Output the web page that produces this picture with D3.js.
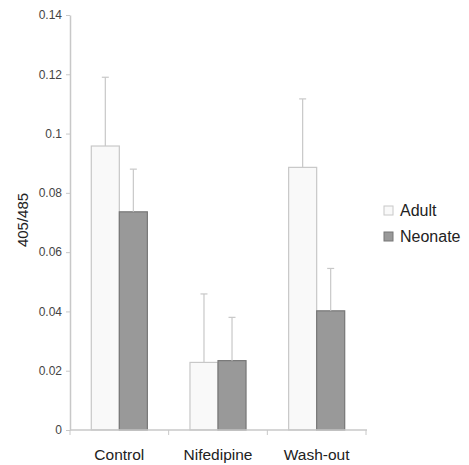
<!DOCTYPE html>
<html>
<head>
<meta charset="utf-8">
<script src="https://cdn.jsdelivr.net/npm/d3@7"></script>
<style>
  body {margin: 0; background: #fff;}
  text {font-family: 'Liberation Sans', Arial, sans-serif;}
</style>
</head>
<body>
<div class="chart"></div>
<script>
var categories = ['Control', 'Nifedipine', 'Wash-out']
var groups = ['Adult', 'Neonate']
var adult = [0.0958, 0.0228, 0.0886]
var adultErr = [0.0232, 0.0231, 0.0231]
var neonate = [0.0736, 0.0234, 0.0402]
var neonateErr = [0.0144, 0.0146, 0.0143]
var yTicks = [0, 0.02, 0.04, 0.06, 0.08, 0.1, 0.12, 0.14]

var fills = {Adult: '#f9f9f9', Neonate: '#999'}
var strokes = {Adult: '#c8c8c8', Neonate: '#777'}

var data = []
categories.forEach((c, i) => {
  data.push({cat: c, group: 'Adult', v: adult[i], e: adultErr[i]})
  data.push({cat: c, group: 'Neonate', v: neonate[i], e: neonateErr[i]})
})

var width = 469, height = 465
var svg = d3.select('.chart').append('svg').attr('width', width).attr('height', height)

var x = d3.scaleBand().domain(categories).range([70, 366]).paddingInner(0).paddingOuter(0)
var x1 = d3.scaleBand().domain(groups).range([0, x.bandwidth()]).paddingInner(0).paddingOuter(0.76)
var y = d3.scaleLinear().domain([0, 0.14]).range([430, 15])

// y axis
var yAxis = svg.append('g').attr('transform', 'translate(70,0)')
  .call(d3.axisLeft(y).tickValues(yTicks).tickSize(4).tickSizeOuter(0).tickPadding(4)
    .tickFormat(d => d3.format('')(+d.toFixed(2))))
yAxis.select('.domain').attr('stroke', '#c8c8c8').attr('stroke-width', 1.5)
yAxis.selectAll('.tick line').attr('stroke', '#c8c8c8')
yAxis.selectAll('.tick text').attr('fill', '#444').style('font-size', '12px')

// bars
svg.selectAll('rect.bar').data(data).join('rect')
  .attr('class', 'bar')
  .attr('x', d => x(d.cat) + x1(d.group))
  .attr('width', x1.bandwidth())
  .attr('y', d => y(d.v))
  .attr('height', d => y(0) - y(d.v))
  .attr('fill', d => fills[d.group])
  .attr('stroke', d => strokes[d.group])
  .attr('stroke-width', 1.2)

// error bars
var eb = svg.selectAll('g.err').data(data).join('g').attr('class', 'err')
  .attr('transform', d => `translate(${x(d.cat) + x1(d.group) + x1.bandwidth() / 2},0)`)
eb.append('line').attr('y1', d => y(d.v)).attr('y2', d => y(d.v + d.e))
  .attr('stroke', '#c8c8c8').attr('stroke-width', 1.2)
eb.append('line').attr('x1', -3.5).attr('x2', 3.5)
  .attr('y1', d => y(d.v + d.e)).attr('y2', d => y(d.v + d.e))
  .attr('stroke', '#c8c8c8').attr('stroke-width', 1.2)

// x axis
var xAxis = svg.append('g').attr('transform', 'translate(0,430)')
xAxis.append('line').attr('x1', 70).attr('x2', 367).attr('stroke', '#c8c8c8').attr('stroke-width', 1.5)
var xt = d3.range(categories.length + 1).map(i => i === categories.length ? x.range()[1] : x(categories[i]))
xAxis.selectAll('line.tk').data(xt).join('line').attr('class', 'tk')
  .attr('x1', d => d).attr('x2', d => d).attr('y1', 0).attr('y2', 5)
  .attr('stroke', '#c8c8c8')
xAxis.selectAll('text').data(categories).join('text')
  .attr('x', d => x(d) + x.bandwidth() / 2).attr('y', 30)
  .attr('text-anchor', 'middle').attr('fill', '#222').style('font-size', '15.5px')
  .text(d => d)

// y title
svg.append('text').attr('transform', 'translate(28,220) rotate(-90)')
  .attr('text-anchor', 'middle').attr('fill', '#222').style('font-size', '15px')
  .text('405/485')

// legend
var lg = svg.selectAll('g.lg').data(groups).join('g').attr('class', 'lg')
  .attr('transform', (d, i) => `translate(384,${206 + i * 26})`)
lg.append('rect').attr('width', 9).attr('height', 9)
  .attr('fill', d => fills[d]).attr('stroke', d => strokes[d])
lg.append('text').attr('x', 16).attr('y', 10).attr('fill', '#222')
  .style('font-size', '16px').text(d => d)
</script>
</body>
</html>
